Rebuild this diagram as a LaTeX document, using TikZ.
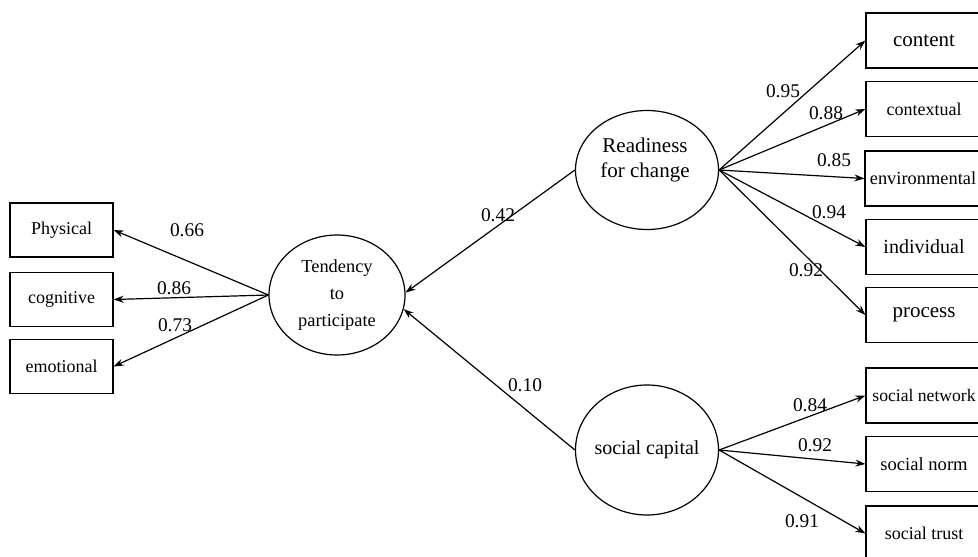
\documentclass[tikz,border=0pt]{standalone}
\usepackage{fontspec}
\setmainfont{Liberation Serif}
\usetikzlibrary{shapes.geometric, arrows.meta}

\begin{document}
\begin{tikzpicture}[x=0.5pt, y=-0.5pt,
    every node/.style={font=\fontsize{9.5}{11}\selectfont},
    ind/.style={draw, line width=0.6pt, rectangle, inner sep=0pt, minimum width=51.5pt, minimum height=27pt, font=\fontsize{9}{11}\selectfont},
    rind/.style={ind, minimum width=58pt, minimum height=27.5pt, font=\fontsize{10}{12}\selectfont},
    lat/.style={draw, line width=0.6pt, ellipse, inner sep=0pt, align=center},
    link/.style={-{Stealth[length=5pt,width=3.5pt]}, line width=0.6pt},
    coef/.style={inner sep=0pt, font=\fontsize{9.7}{11}\selectfont}]
        \useasboundingbox (0,0) rectangle (978,556);
        \clip (0,0) rectangle (978,556);

        % latent variables
        \node[lat, minimum width=68pt, minimum height=60pt, font=\fontsize{9.2}{13.5}\selectfont] (tend) at (337,295) {Tendency\\to\\participate};
        \node[lat, minimum width=71.5pt, minimum height=59.5pt] (ready) at (647,170) {};
        \node[align=center, inner sep=0pt, font=\fontsize{10.5}{12.5}\selectfont] (readytxt) at (645,160) {Readiness\\for change};
        \node[lat, inner xsep=-10pt, minimum width=71.5pt, minimum height=65pt, font=\fontsize{10}{12}\selectfont] (soc) at (647,450) {social capital};

        % indicators of tendency
        \node[ind] (phys) at (61.5,230) {Physical};
        \node[ind] (cog) at (61.5,299.5) {cognitive};
        \node[ind] (emo) at (61.5,366.5) {emotional};

        % indicators of readiness
        \node[rind, font=\fontsize{10.5}{12}\selectfont] (content) at (924,40.5) {content};
        \node[rind, font=\fontsize{9}{11}\selectfont] (context) at (924,109) {contextual};
        \node[rind, font=\fontsize{9.2}{11}\selectfont] (environ) at (923,178.5) {environmental};
        \node[rind] (indiv) at (924,247) {individual};
        \node[rind, font=\fontsize{10.5}{12}\selectfont] (process) at (924,315) {process};

        % indicators of social capital
        \node[rind, font=\fontsize{8.8}{11}\selectfont] (snet) at (924,395.5) {social network};
        \node[rind, font=\fontsize{9.3}{11}\selectfont] (snorm) at (924,464) {social norm};
        \node[rind, font=\fontsize{9}{11}\selectfont] (strust) at (924,533.5) {social trust};

        \draw[link] (tend.west) -- (phys.east);
        \draw[link] (tend.west) -- (cog.east);
        \draw[link] (tend.west) -- (emo.east);

        \draw[link] (ready.west) -- (tend.2);
        \draw[link] (soc.west) -- (tend.-12);

        \draw[link] (ready.east) -- (content.west);
        \draw[link] (ready.east) -- (context.west);
        \draw[link] (ready.east) -- (environ.west);
        \draw[link] (ready.east) -- (indiv.west);
        \draw[link] (ready.east) -- (process.west);

        \draw[link] (soc.east) -- (snet.west);
        \draw[link] (soc.east) -- (snorm.west);
        \draw[link] (soc.east) -- (strust.west);

        % loadings
        \node[coef] (l66) at (187,230) {0.66};
        \node[coef] (l86) at (174,288) {0.86};
        \node[coef] (l73) at (175,325) {0.73};
        \node[coef] (l42) at (498,215) {0.42};
        \node[coef] (l10) at (525,385) {0.10};
        \node[coef] (l95) at (783,91) {0.95};
        \node[coef] (l88) at (826,113) {0.88};
        \node[coef] (l85) at (834,160) {0.85};
        \node[coef] (l94) at (829,212) {0.94};
        \node[coef] (l92a) at (806,270) {0.92};
        \node[coef] (l84) at (810,405) {0.84};
        \node[coef] (l92b) at (815,445) {0.92};
        \node[coef] (l91) at (802,521) {0.91};
    \end{tikzpicture}
\end{document}
